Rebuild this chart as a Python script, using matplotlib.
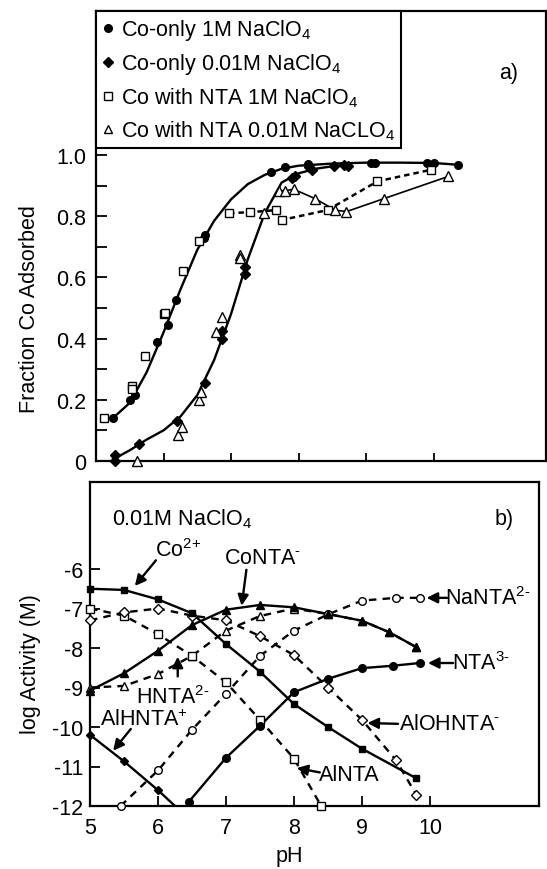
import matplotlib
matplotlib.use('Agg')
import matplotlib.pyplot as plt
from matplotlib.lines import Line2D
from matplotlib.ticker import FixedLocator

plt.rcParams['font.family'] = ['Liberation Sans', 'DejaVu Sans']
plt.rcParams['mathtext.fontset'] = 'custom'
plt.rcParams['mathtext.rm'] = 'Liberation Sans'
plt.rcParams['mathtext.default'] = 'regular'
plt.rcParams['axes.unicode_minus'] = False

# ---------------- panel a) : fraction Co adsorbed ----------------
co1m_ph = [5.25, 5.51, 5.58, 5.91, 6.06, 6.18, 6.6, 6.62, 7.59, 7.8, 8.14, 9.08, 9.13, 9.9, 10.0, 10.37]
co1m_frac = [0.14, 0.2, 0.215, 0.39, 0.445, 0.525, 0.73, 0.74, 0.945, 0.96, 0.97, 0.975, 0.975, 0.974, 0.974, 0.968]
co1m_fit_ph = [5.25, 5.5, 5.75, 6.0, 6.25, 6.5, 6.75, 7.0, 7.25, 7.5, 7.75, 8.0, 8.5, 9.0, 9.5, 10.0, 10.37]
co1m_fit_frac = [0.14, 0.19, 0.29, 0.42, 0.56, 0.69, 0.785, 0.855, 0.905, 0.935, 0.955, 0.965, 0.972, 0.975, 0.975, 0.974, 0.968]

co001_ph = [5.28, 5.28, 5.63, 6.2, 6.61, 6.86, 6.87, 7.2, 7.2, 7.9, 7.95, 8.15, 8.2, 8.52, 8.67, 8.74]
co001_frac = [0.0, 0.02, 0.055, 0.13, 0.255, 0.40, 0.425, 0.61, 0.635, 0.925, 0.93, 0.96, 0.95, 0.963, 0.968, 0.963]
co001_fit_ph = [5.25, 5.5, 5.75, 6.0, 6.25, 6.5, 6.75, 7.0, 7.25, 7.5, 7.75, 8.0, 8.25, 8.5, 8.75]
co001_fit_frac = [0.005, 0.035, 0.07, 0.1, 0.145, 0.215, 0.33, 0.48, 0.66, 0.81, 0.91, 0.94, 0.955, 0.963, 0.968]

nta1m_ph = [5.12, 5.53, 5.53, 5.73, 6.01, 6.02, 6.29, 6.52, 6.97, 7.28, 7.67, 7.76, 8.43, 9.17, 9.97]
nta1m_frac = [0.14, 0.245, 0.236, 0.343, 0.479, 0.485, 0.62, 0.72, 0.81, 0.813, 0.82, 0.788, 0.82, 0.914, 0.952]

nta001_ph = [5.61, 6.22, 6.28, 6.53, 6.55, 6.78, 6.86, 7.13, 7.14, 7.49, 7.71, 7.8, 7.93, 8.25, 8.54, 8.71, 9.26, 10.22]
nta001_frac = [0.0, 0.085, 0.11, 0.198, 0.225, 0.42, 0.47, 0.673, 0.665, 0.81, 0.883, 0.883, 0.888, 0.857, 0.82, 0.815, 0.857, 0.93]

# ---------------- panel b) : log activity ----------------
ph_co = [5.0, 5.5, 6.0, 6.5, 7.0, 7.5, 8.0, 8.5, 9.0, 9.8]
log_co = [-6.5, -6.53, -6.77, -7.12, -7.9, -8.6, -9.42, -10.0, -10.55, -11.3]

ph_conta = [5.0, 5.5, 6.0, 6.5, 7.0, 7.5, 8.0, 8.5, 9.0, 9.4, 9.8]
log_conta = [-9.08, -8.64, -8.07, -7.42, -7.03, -6.91, -6.97, -7.14, -7.31, -7.6, -7.98]

ph_hnta = [5.0, 5.5, 6.0, 6.5, 7.0, 7.5, 8.0, 8.5, 9.0, 9.4, 9.8]
log_hnta = [-9.0, -8.96, -8.66, -8.2, -7.56, -7.19, -7.0, -7.14, -7.31, -7.6, -7.98]

ph_alhnta = [5.0, 5.5, 6.0, 6.5]
log_alhnta = [-10.2, -10.87, -11.6, -12.4]

ph_alnta = [5.0, 5.5, 6.0, 6.5, 7.0, 7.5, 8.0, 8.4]
log_alnta = [-7.0, -7.18, -7.65, -8.2, -8.87, -9.82, -10.8, -12.0]

ph_aloh = [5.0, 5.5, 6.0, 6.5, 7.0, 7.5, 8.0, 8.5, 9.0, 9.5, 9.8]
log_aloh = [-7.3, -7.1, -7.0, -7.18, -7.3, -7.7, -8.18, -9.0, -9.82, -10.84, -11.72]

ph_nanta = [5.45, 6.0, 6.5, 7.0, 7.5, 8.0, 8.5, 9.0, 9.5, 9.85]
log_nanta = [-12.0, -11.1, -10.07, -9.16, -8.2, -7.56, -7.15, -6.8, -6.73, -6.73]

ph_nta = [6.45, 7.0, 7.5, 8.0, 8.5, 9.0, 9.45, 9.85]
log_nta = [-11.9, -10.78, -9.97, -9.12, -8.78, -8.51, -8.45, -8.38]

FS = 15.5
DASH = (3.2, 2.6)
HY = '\u2010'  # short hyphen used in the charge labels

fig = plt.figure(figsize=(5.47, 8.70), dpi=100)
ax1 = fig.add_axes([96/547, 1-462/870, (546-96)/547, (462-12)/870])
ax2 = fig.add_axes([90/547, 1-807/870, (539-90)/547, (807-483)/870])


def marks(ax, x, y, m, filled, ms, ylow=None):
    if ylow is not None:
        pts = [(a, b) for a, b in zip(x, y) if b >= ylow]
        x = [p[0] for p in pts]
        y = [p[1] for p in pts]
    ax.plot(x, y, ls='none', marker=m, ms=ms, mec='k', mew=1.0,
            mfc='k' if filled else 'white', clip_on=False, zorder=4)


# ---- panel a
ax1.plot(co1m_fit_ph, co1m_fit_frac, color='k', lw=1.7, zorder=2)
ax1.plot(co001_fit_ph, co001_fit_frac, color='k', lw=1.7, zorder=2)
ax1.plot(nta1m_ph[8:], nta1m_frac[8:], color='k', lw=1.8, dashes=(2.2, 1.6), zorder=2)
ax1.plot(nta001_ph[10:], nta001_frac[10:], color='k', lw=1.2, zorder=2)
marks(ax1, co1m_ph, co1m_frac, 'o', True, 5.5)
marks(ax1, co001_ph, co001_frac, 'D', True, 5)
marks(ax1, nta1m_ph, nta1m_frac, 's', False, 5.5)
marks(ax1, nta001_ph, nta001_frac, '^', False, 6.5)

ax1.set_xlim(5, 5 + 450/67.5)
ax1.set_ylim(0, 450/306)
ax1.yaxis.set_major_locator(FixedLocator([0, 0.2, 0.4, 0.6, 0.8, 1.0]))
ax1.yaxis.set_minor_locator(FixedLocator([0.1, 0.3, 0.5, 0.7, 0.9]))
ax1.set_yticklabels(['0', '0.2', '0.4', '0.6', '0.8', '1.0'])
ax1.xaxis.set_major_locator(FixedLocator([6, 7, 8, 9, 10]))
ax1.set_xticklabels([])
ax1.tick_params(axis='y', which='both', direction='in', length=8, width=1.3,
                labelsize=FS, pad=7, right=False)
ax1.tick_params(axis='x', direction='in', length=6, width=1.3, top=False)
ax1.set_ylabel('Fraction Co Adsorbed', fontsize=FS)
ax1.yaxis.set_label_coords(-0.125, 0.34)
for s in ax1.spines.values():
    s.set_linewidth(1.6)

handles = [
    Line2D([], [], ls='none', marker='o', ms=5.5, mfc='k', mec='k'),
    Line2D([], [], ls='none', marker='D', ms=5, mfc='k', mec='k'),
    Line2D([], [], ls='none', marker='s', ms=5.5, mfc='white', mec='k'),
    Line2D([], [], ls='none', marker='^', ms=6, mfc='white', mec='k'),
]
labels = ['Co-only 1M NaClO$_4$', 'Co-only 0.01M NaClO$_4$',
          'Co with NTA 1M NaClO$_4$', 'Co with NTA 0.01M NaCLO$_4$']
leg = ax1.legend(handles, labels, loc='upper left', bbox_to_anchor=(0, 1),
                 borderaxespad=0, fontsize=15.5, frameon=True, fancybox=False,
                 framealpha=1, edgecolor='k', handlelength=0.5,
                 handletextpad=0.35, borderpad=0.3, labelspacing=0.42)
leg.get_frame().set_linewidth(1.5)
ax1.text(0.895, 0.85, 'a)', transform=ax1.transAxes, fontsize=FS)

# ---- panel b
solid = dict(color='k', lw=1.7, zorder=2)
dashed = dict(color='k', lw=1.7, dashes=DASH, zorder=2)
ax2.plot(ph_co, log_co, **solid)
ax2.plot(ph_conta, log_conta, **solid)
ax2.plot(ph_nta, log_nta, **solid)
ax2.plot(ph_alhnta, log_alhnta, **solid)
ax2.plot(ph_hnta, log_hnta, **dashed)
ax2.plot(ph_alnta, log_alnta, **dashed)
ax2.plot(ph_aloh, log_aloh, **dashed)
ax2.plot(ph_nanta, log_nanta, **dashed)

marks(ax2, ph_hnta, log_hnta, '^', False, 6)
marks(ax2, ph_alnta, log_alnta, 's', False, 5.5)
marks(ax2, ph_aloh, log_aloh, 'D', False, 5)
marks(ax2, ph_nanta, log_nanta, 'o', False, 5.5)
marks(ax2, ph_co, log_co, 's', True, 5)
marks(ax2, ph_conta, log_conta, '^', True, 6)
marks(ax2, ph_nta, log_nta, 'o', True, 5.5)
marks(ax2, ph_alhnta, log_alhnta, 'D', True, 4.5, ylow=-12)

ax2.set_xlim(5, 5 + 449/68)
ax2.set_ylim(-12, -12 + 324/39.5)
ax2.xaxis.set_major_locator(FixedLocator([5, 6, 7, 8, 9, 10]))
ax2.yaxis.set_major_locator(FixedLocator([-12, -11, -10, -9, -8, -7, -6]))
ax2.set_xticklabels(['5', '6', '7', '8', '9', '10'])
ax2.set_yticklabels(['-12', '-11', '-10', '-9', '-8', '-7', '-6'])
ax2.tick_params(axis='both', direction='in', length=7, width=1.3,
                labelsize=FS, top=False, right=False)
ax2.tick_params(axis='x', pad=8)
ax2.tick_params(axis='y', pad=5)
ax2.set_xlabel('pH', fontsize=FS)
ax2.xaxis.set_label_coords(0.445, -0.12)
ax2.set_ylabel('log Activity (M)', fontsize=FS)
ax2.yaxis.set_label_coords(-0.11, 0.44)
for s in ax2.spines.values():
    s.set_linewidth(1.6)

ax2.text(0.05, 0.87, '0.01M NaClO$_4$', transform=ax2.transAxes, fontsize=FS)
ax2.text(0.9, 0.87, 'b)', transform=ax2.transAxes, fontsize=FS)

arrow = dict(arrowstyle='-|>', color='k', lw=1.7, mutation_scale=16,
             shrinkA=0, shrinkB=0)


def label_arrow(txt, tx, ty, tail, head, ha='left', va='center'):
    ax2.text(tx, ty, txt, fontsize=FS, ha=ha, va=va, zorder=6)
    ax2.annotate('', xy=head, xytext=tail, arrowprops=arrow, zorder=6)


label_arrow('Co$^{2{+}}$', 5.96, -5.68, (5.97, -5.78), (5.66, -6.43), va='baseline')
label_arrow('CoNTA$^{' + HY + '}$', 6.97, -5.84, (7.30, -6.02), (7.23, -6.93), va='baseline')
label_arrow('NaNTA$^{2' + HY + '}$', 10.22, -6.73, (10.25, -6.73), (9.95, -6.73))
label_arrow('NTA$^{3' + HY + '}$', 10.32, -8.38, (10.34, -8.38), (9.97, -8.38))
label_arrow('AlOHNTA$^{' + HY + '}$', 9.54, -9.92, (9.53, -9.92), (9.08, -9.9))
label_arrow('AlNTA', 8.36, -11.2, (8.38, -11.15), (8.04, -11.04))
label_arrow('AlHNTA$^{{+}}$', 5.15, -9.95, (5.60, -10.05), (5.34, -10.6), va='baseline')
label_arrow('HNTA$^{2' + HY + '}$', 5.68, -9.4, (6.29, -8.72), (6.29, -8.22), va='baseline')

fig.savefig('out.png', dpi=100)
